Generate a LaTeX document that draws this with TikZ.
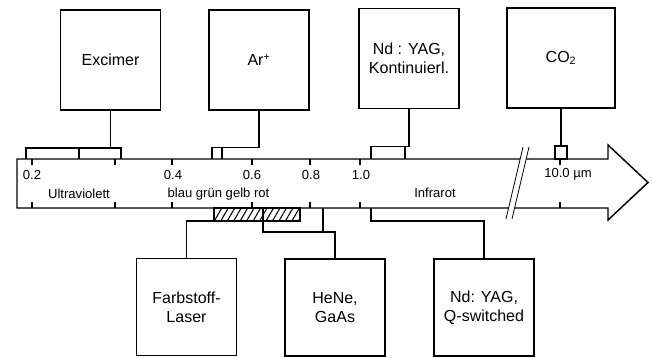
\documentclass[tikz,border=0pt]{standalone}
\usepackage{fontspec}
\setmainfont{Liberation Sans}
\usetikzlibrary{patterns.meta}

\begin{document}
\begin{tikzpicture}[
  x=0.75pt,y=-0.75pt,line width=1.1pt,
  laser/.style={rectangle,draw,inner sep=0pt,minimum width=75pt,minimum height=75pt,align=center,font=\fontsize{12}{14}\selectfont},
  lowlaser/.style={laser,minimum height=72.5pt},
  scalelab/.style={font=\fontsize{9.8}{11}\selectfont,inner sep=0pt},
  hatchbox/.style={draw,pattern={Lines[angle=60,distance=4.2pt,line width=0.8pt]}},
  slash/.style={line width=0.6pt},
]
\useasboundingbox (0,0) rectangle (653,357);

% Wavelength arrow
\draw[fill=white] (17,159) -- (608,159) -- (608,145) -- (648,182.5) -- (608,220) -- (608,208) -- (17,208) -- cycle;
\foreach \t in {32,115,172,252,310,360,560} {
  \draw (\t,159) -- (\t,165);
  \draw (\t,208) -- (\t,202);
}

% Axis break
\fill[white] (523,147) -- (529,147) -- (512,219) -- (506,219) -- cycle;
\draw[slash] (523,147) -- (506,219);
\draw[slash] (529,147) -- (512,219);

% Scale labels
\node[scalelab] (l02) at (32,175) {0.2};
\node[scalelab] (l04) at (173,175) {0.4};
\node[scalelab] (l06) at (252,175) {0.6};
\node[scalelab] (l08) at (311,175) {0.8};
\node[scalelab] (l10) at (361,175) {1.0};
\node[scalelab] (l100) at (568,174) {10.0 µm};
\node[scalelab] (uv) at (79,194) {Ultraviolett};
\node[scalelab] (vis) at (218.5,194) {blau grün gelb rot};
\node[scalelab] (ir) at (435,193) {Infrarot};

% Excimer
\node[laser] (excimer) at (110.5,60) {Excimer};
\draw (excimer.south) -- ++(0,38);
\draw (26,159) |- (121,148) -- (121,159);
\draw (79,148) -- (79,159);

% Ar+
\node[laser] (argon) at (259,60) {Ar\textsuperscript{+}};
\draw (argon.south) -- ++(0,37) -| (212,159);
\draw (222,147) -- (222,159);

% Nd:YAG continuous
\node[laser] (ndcw) at (409,58.5) {Nd : YAG,\\Kontinuierl.};
\draw (ndcw.south) -- ++(0,37) -| (371,159);
\draw (405,146) -- (405,159);

% CO2
\node[laser,minimum width=81pt] (co2) at (561,58) {CO\textsubscript{2}};
\draw (co2.south) -- ++(0,38);
\draw (555,146) rectangle (567,159);

% Dye laser range
\draw[hatchbox] (214,208) rectangle (300,221);
\draw (263,208) -- (263,221);

% Farbstoff-Laser
\node[lowlaser] (dye) at (186.5,307) {Farbstoff-\\Laser};
\draw (dye.north) |- (214,221);

% HeNe, GaAs
\node[lowlaser] (hene) at (335,307.5) {HeNe,\\GaAs};
\draw (263,221) -- (263,232) -| (hene.north);
\draw (323,208) -- (323,232);

% Nd:YAG Q-switched
\node[lowlaser] (ndq) at (484,307.5) {Nd: YAG,\\Q-switched};
\draw (ndq.north) |- (371,221) -- (371,208);
\end{tikzpicture}
\end{document}
